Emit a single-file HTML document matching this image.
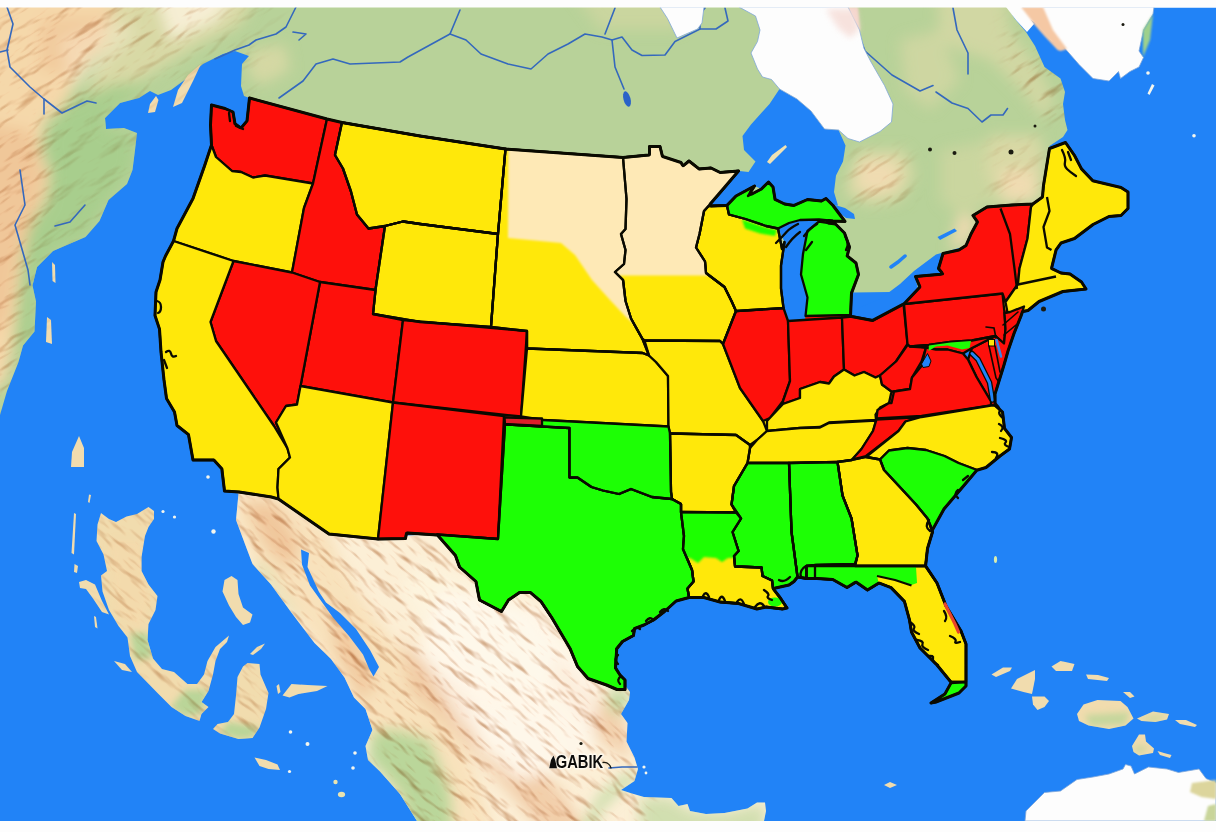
<!DOCTYPE html>
<html lang="en"><head><meta charset="utf-8"><title>Map</title>
<style>html,body{margin:0;padding:0;background:#fdfdfd;}body{width:1216px;height:832px;overflow:hidden;font-family:"Liberation Sans",sans-serif;}svg{display:block;}</style></head><body>
<svg width="1216" height="832" viewBox="0 0 1216 832">
<defs>
<filter id="bl" x="-20%" y="-20%" width="140%" height="140%"><feGaussianBlur stdDeviation="7"/></filter>
<filter id="bs" x="-20%" y="-20%" width="140%" height="140%"><feGaussianBlur stdDeviation="3"/></filter>
<filter id="relief" x="0" y="0" width="100%" height="100%" color-interpolation-filters="sRGB"><feTurbulence type="fractalNoise" baseFrequency="0.022 0.07" numOctaves="3" seed="11" result="n"/><feDiffuseLighting in="n" surfaceScale="5" diffuseConstant="1.2" lighting-color="#ffffff" result="l"><feDistantLight azimuth="250" elevation="60"/></feDiffuseLighting><feColorMatrix in="l" type="matrix" values=".30 0 0 0 .71  0 .52 0 0 .48  0 0 .70 0 .30  0 0 0 1 0"/></filter>
<filter id="b1" x="-20%" y="-20%" width="140%" height="140%"><feGaussianBlur stdDeviation="1.2"/></filter>
<clipPath id="cA"><polygon points="0,7 1007.5,7 1014.5,18.5 1026,32 1035,46 1044.5,67 1060.5,78.5 1065,92 1063,104 1065,120 1067.5,130 1063,137 1049.5,146 1040,290 300,300 249.5,98 244,96 241,86 242,64 249,56 235,51 223,54 203,64 186,79 171,90 158,95 150,91 139,98 120,103 105,118 106,129 124,128 137,133 135,150 132.5,170 127,184 108.5,200 99.5,221 85.5,237 53,251 37,267 32.5,285.5 36,301.5 34.5,331.5 23,345.5 18.5,362 7,391 0,415"/></clipPath>
<clipPath id="cB"><polygon points="224.5,491 279,495 330,532 380,537 437,534 500,535 525,580 548,595 575,635 595,665 625.5,686 630,692 629,700 621,714 627.5,723 626.5,741.5 634.5,757.5 638,769 634.5,781 621,790 632,793.5 644,797 671.5,798 678.5,806 687.5,804 690,811 706,814 724.5,813 747.5,808.5 757,802.5 765,802.5 766,811 764,821 417,821 400,794 380,771.5 368,760 365.5,746 372.5,730 365.5,709 354,697.5 344.5,677.5 331,659 314.5,643 298.5,622 289.5,610 271,584.5 252.5,564 245.5,545.5 236,520 238.5,493.5"/></clipPath>
<clipPath id="cLand"><polygon points="0,7 1007.5,7 1014.5,18.5 1026,32 1035,46 1044.5,67 1060.5,78.5 1065,92 1063,104 1065,120 1067.5,130 1063,137 1049.5,146 1040,290 300,300 249.5,98 244,96 241,86 242,64 249,56 235,51 223,54 203,64 186,79 171,90 158,95 150,91 139,98 120,103 105,118 106,129 124,128 137,133 135,150 132.5,170 127,184 108.5,200 99.5,221 85.5,237 53,251 37,267 32.5,285.5 36,301.5 34.5,331.5 23,345.5 18.5,362 7,391 0,415"/><polygon points="224.5,491 279,495 330,532 380,537 437,534 500,535 525,580 548,595 575,635 595,665 625.5,686 630,692 629,700 621,714 627.5,723 626.5,741.5 634.5,757.5 638,769 634.5,781 621,790 632,793.5 644,797 671.5,798 678.5,806 687.5,804 690,811 706,814 724.5,813 747.5,808.5 757,802.5 765,802.5 766,811 764,821 417,821 400,794 380,771.5 368,760 365.5,746 372.5,730 365.5,709 354,697.5 344.5,677.5 331,659 314.5,643 298.5,622 289.5,610 271,584.5 252.5,564 245.5,545.5 236,520 238.5,493.5"/><polygon points="101,513 109,519 116,522 126.5,516.5 137,514 148.5,507 154,511 154,519 148.5,527 145,536 141.5,557 141.5,571 148.5,584.5 157.5,596 155.5,610 148.5,624 147.5,640 153,658.5 162,669 174,672 187.5,684 197,684 204,674.5 207.5,661 215.5,647 229,635.5 227,642 220,649 215.5,661 213,674.5 208.5,691 201.5,702 208.5,707 201.5,714 199.5,721 185.5,716 171.5,707 157.5,693 137,672 130,656 127.5,637.5 118.5,626 109,610 102.5,591.5 101,575.5 107,571 103.5,554.5 96.5,541 97.5,524.5"/><polygon points="79,582 86,580 95,584.5 102,601 109,614.5 102,612 93,598.5 86,589 80,588"/><polygon points="224.5,580 231.5,576 237.5,580 238.5,594 243,607.5 252.5,614.5 250,622.5 243,625 236,617 229,605.5 222.5,591.5"/><polygon points="247.5,663 259.5,664 260.5,674.5 268.5,693 266,709 259.5,727.5 252.5,738 238.5,739 220,733.5 213,729 217.5,724 228,722 234,714 236,695.5 237.5,677 243,666.5"/><polygon points="282.5,695.5 291.5,684 307.5,685 327.5,686 317,691 298.5,694 289.5,697.5"/><polygon points="276.5,686 279,684 280.5,692 278,694"/><polygon points="250,654 257,647 265,643.5 261,649 253,655"/><polygon points="254.5,757.5 266,760 277.5,764.5 280,770 268.5,769 259.5,766"/><polygon points="79,436 84,448 84,467 71,467 72,452"/><polygon points="201,64 193,81 182,103 173,107 178,90 188,75"/><polygon points="156,96 158.5,100 155,112 148,113 150,104"/><polygon points="47,317 51,320 52,344 46,342"/><polygon points="52,262 55,265 55.5,283 52.5,281"/><polygon points="74,513 76,514 74,554.5 71.5,553"/><polygon points="74.5,564 78,566 77,573 74,572"/><polygon points="89,494.5 91,495 89.5,503 88,502"/><polygon points="94,616 96,617 97.5,628.5 95,627"/><polygon points="114,661 125,664 132,672 122,670"/><polygon points="991.5,674.5 1003,667.5 1012,667.5 1010,671 996,677"/><polygon points="1011,688.5 1017,679 1035,670 1035,679 1032,694 1023.5,692"/><polygon points="1032,696.5 1044.5,696.5 1049,701 1044.5,707 1037.5,710 1033,704.5"/><polygon points="1051.5,666.5 1060.5,661 1074.5,664 1072,671 1056,671"/><polygon points="1086,674.5 1098,675 1109,678 1107,681 1088,679"/><polygon points="1123,692 1130,692 1134.5,696.5 1130,698"/><polygon points="1077,714 1083.5,704.5 1097.5,700 1120.5,701 1127.5,707 1133.5,718.5 1125.5,725.5 1109,729 1088.5,725.5 1079,721"/><polygon points="1137,718.5 1153,711.5 1169,714 1167,719.5 1155.5,722 1141.5,721"/><polygon points="1175,720 1186,720 1197,725 1195,727 1180,724"/><polygon points="1132,746 1139,734.5 1145,734.5 1146,741.5 1154,748.5 1153,753 1139,755.5 1133.5,752"/><polygon points="1157.5,751 1164,753 1171.5,755 1170,758 1160,755"/><polygon points="884,785 890,782 897,785 890,788"/></clipPath>
<clipPath id="cCr1"><polygon points="505.5,149 623,157.5 626.5,199 625.5,229 621,234 625.5,250 624,264 615,272 623,280 625.5,301 631,318.5 642.5,339 649,355.5 642.5,353 527,348.5 527,331 491,327 498,234"/></clipPath><clipPath id="cCr2"><polygon points="623,157.5 649.5,155 649.5,146.5 660,146.5 662.5,156.5 681,162.5 683,166 689,161 699,169 711,168 720,172.5 738.5,171 722.5,190 708.5,206 704,211 699.5,234 696,247.5 705,261.5 706,273 724.5,287 731.5,301 736,311 723,344 720,341 644.5,340.5 642.5,339 631,318.5 625.5,301 623,280 615,272 624,264 625.5,250 621,234 625.5,229 626.5,199"/></clipPath>
<clipPath id="cI"><polygon points="101,513 109,519 116,522 126.5,516.5 137,514 148.5,507 154,511 154,519 148.5,527 145,536 141.5,557 141.5,571 148.5,584.5 157.5,596 155.5,610 148.5,624 147.5,640 153,658.5 162,669 174,672 187.5,684 197,684 204,674.5 207.5,661 215.5,647 229,635.5 227,642 220,649 215.5,661 213,674.5 208.5,691 201.5,702 208.5,707 201.5,714 199.5,721 185.5,716 171.5,707 157.5,693 137,672 130,656 127.5,637.5 118.5,626 109,610 102.5,591.5 101,575.5 107,571 103.5,554.5 96.5,541 97.5,524.5"/><polygon points="79,582 86,580 95,584.5 102,601 109,614.5 102,612 93,598.5 86,589 80,588"/><polygon points="224.5,580 231.5,576 237.5,580 238.5,594 243,607.5 252.5,614.5 250,622.5 243,625 236,617 229,605.5 222.5,591.5"/><polygon points="247.5,663 259.5,664 260.5,674.5 268.5,693 266,709 259.5,727.5 252.5,738 238.5,739 220,733.5 213,729 217.5,724 228,722 234,714 236,695.5 237.5,677 243,666.5"/><polygon points="282.5,695.5 291.5,684 307.5,685 327.5,686 317,691 298.5,694 289.5,697.5"/><polygon points="276.5,686 279,684 280.5,692 278,694"/><polygon points="250,654 257,647 265,643.5 261,649 253,655"/><polygon points="254.5,757.5 266,760 277.5,764.5 280,770 268.5,769 259.5,766"/><polygon points="79,436 84,448 84,467 71,467 72,452"/><polygon points="201,64 193,81 182,103 173,107 178,90 188,75"/><polygon points="156,96 158.5,100 155,112 148,113 150,104"/><polygon points="47,317 51,320 52,344 46,342"/><polygon points="52,262 55,265 55.5,283 52.5,281"/><polygon points="74,513 76,514 74,554.5 71.5,553"/><polygon points="74.5,564 78,566 77,573 74,572"/><polygon points="89,494.5 91,495 89.5,503 88,502"/><polygon points="94,616 96,617 97.5,628.5 95,627"/><polygon points="114,661 125,664 132,672 122,670"/><polygon points="991.5,674.5 1003,667.5 1012,667.5 1010,671 996,677"/><polygon points="1011,688.5 1017,679 1035,670 1035,679 1032,694 1023.5,692"/><polygon points="1032,696.5 1044.5,696.5 1049,701 1044.5,707 1037.5,710 1033,704.5"/><polygon points="1051.5,666.5 1060.5,661 1074.5,664 1072,671 1056,671"/><polygon points="1086,674.5 1098,675 1109,678 1107,681 1088,679"/><polygon points="1123,692 1130,692 1134.5,696.5 1130,698"/><polygon points="1077,714 1083.5,704.5 1097.5,700 1120.5,701 1127.5,707 1133.5,718.5 1125.5,725.5 1109,729 1088.5,725.5 1079,721"/><polygon points="1137,718.5 1153,711.5 1169,714 1167,719.5 1155.5,722 1141.5,721"/><polygon points="1175,720 1186,720 1197,725 1195,727 1180,724"/><polygon points="1132,746 1139,734.5 1145,734.5 1146,741.5 1154,748.5 1153,753 1139,755.5 1133.5,752"/><polygon points="1157.5,751 1164,753 1171.5,755 1170,758 1160,755"/><polygon points="884,785 890,782 897,785 890,788"/></clipPath>
<clipPath id="cUS"><path d="M177.0,228.5 L173.5,241.0 L165.5,256.0 L163.0,262.0 L160.0,280.0 L156.0,292.0 L155.0,315.5 L159.5,329.0 L161.0,352.0 L164.0,380.0 L166.5,398.5 L174.5,412.0 L177.0,425.5 L188.5,434.5 L193.0,460.0 L214.0,460.0 L222.0,469.0 L224.5,491.0 L239.0,492.0 L271.5,497.0 L278.5,499.0 L329.0,534.0 L378.0,539.0 L405.5,538.5 L406.5,533.0 L437.5,535.0 L455.5,555.5 L459.5,567.0 L476.0,581.5 L479.5,600.0 L501.5,611.5 L508.5,600.0 L519.5,592.5 L530.5,592.5 L541.0,601.5 L552.0,618.0 L570.0,648.5 L577.5,666.5 L588.0,678.5 L606.5,685.0 L617.0,689.5 L625.0,689.5 L625.0,680.0 L620.0,675.0 L615.5,668.0 L616.5,649.0 L622.5,641.5 L633.5,635.5 L634.5,628.5 L644.0,625.0 L653.5,620.0 L664.5,611.5 L676.0,601.0 L689.0,597.5 L704.0,597.5 L720.0,602.0 L738.5,603.5 L757.0,609.0 L766.0,607.0 L782.5,609.0 L787.0,608.0 L780.0,597.5 L773.0,588.5 L789.0,585.0 L794.0,581.5 L797.5,577.0 L806.5,578.5 L817.0,578.5 L833.0,579.5 L847.0,587.5 L856.0,582.0 L867.5,590.0 L879.0,583.0 L891.0,587.5 L904.5,601.5 L909.5,620.0 L911.5,632.0 L920.0,648.0 L937.0,665.0 L951.3,682.4 L945.0,694.0 L931.0,703.0 L936.0,702.0 L959.0,693.0 L966.0,686.0 L966.0,644.0 L961.0,631.0 L946.0,606.0 L937.0,583.0 L925.5,566.0 L927.5,548.5 L932.5,532.0 L932.1,530.8 L944.0,509.0 L955.5,495.5 L969.5,479.0 L977.0,470.0 L986.0,467.5 L1000.0,456.0 L1009.5,449.0 L1011.5,437.5 L1004.5,428.5 L1002.5,412.0 L995.0,405.5 L995.0,394.0 L1004.0,365.0 L1008.0,351.0 L1014.0,333.5 L1021.0,316.0 L1022.4,311.5 L1028.0,310.5 L1039.0,301.5 L1063.0,291.5 L1086.0,289.0 L1081.5,282.0 L1070.0,274.0 L1061.0,273.0 L1051.5,268.5 L1056.0,250.0 L1061.0,243.0 L1074.5,238.5 L1093.0,224.5 L1109.0,216.5 L1121.0,215.5 L1128.0,208.5 L1128.0,192.0 L1121.0,187.5 L1093.0,181.0 L1081.5,169.0 L1074.5,155.5 L1065.5,142.5 L1049.5,148.5 L1043.5,185.5 L1042.5,197.0 L1033.0,204.0 L1012.0,205.0 L987.0,207.0 L973.0,215.5 L977.5,222.0 L971.0,234.0 L966.0,245.5 L959.0,250.0 L943.0,253.5 L938.5,268.5 L943.0,274.0 L915.5,276.5 L920.0,287.0 L904.5,303.4 L873.0,320.5 L850.4,316.2 L851.5,293.0 L858.5,274.5 L856.0,263.0 L847.0,256.0 L849.5,247.0 L844.5,233.0 L832.5,221.0 L845.0,221.5 L833.0,205.5 L826.0,198.5 L821.5,201.0 L807.5,199.5 L794.0,205.5 L784.5,204.0 L775.0,199.5 L773.0,187.0 L768.5,182.0 L761.5,189.0 L748.0,196.0 L754.5,186.0 L736.0,196.0 L727.0,205.5 L708.5,206.0 L722.5,190.0 L738.5,171.0 L720.0,172.5 L711.0,168.0 L699.0,169.0 L689.0,161.0 L683.0,166.0 L681.0,162.5 L662.5,156.5 L660.0,146.5 L649.5,146.5 L649.5,155.0 L623.0,157.5 L505.5,149.0 L420.0,136.0 L342.0,122.5 L327.0,119.0 L249.5,98.0 L247.0,121.0 L241.0,128.0 L235.0,124.0 L233.0,112.0 L225.0,108.5 L211.5,105.0 L210.5,125.0 L211.5,145.0 L204.5,166.0 L193.0,198.5Z M972.0,348.0 L968.0,359.5 L963.0,353.5Z M784.5,242.0 L782.0,249.0 L778.0,228.5 L789.0,223.0 L800.0,220.0 L821.5,219.4 L807.5,231.0 L803.0,254.0 L801.0,274.5 L807.5,297.5 L805.1,319.9 L788.0,321.0 L783.5,308.0 L781.0,288.5 L781.0,265.5Z" clip-rule="evenodd"/></clipPath>
</defs>
<rect x="0" y="0" width="1216" height="832" fill="#fdfdfd"/>
<rect x="0" y="7.5" width="1216" height="813.5" fill="#2183f7"/>
<g id="land" stroke="none">
<polygon points="0,7 1007.5,7 1014.5,18.5 1026,32 1035,46 1044.5,67 1060.5,78.5 1065,92 1063,104 1065,120 1067.5,130 1063,137 1049.5,146 1040,290 300,300 249.5,98 244,96 241,86 242,64 249,56 235,51 223,54 203,64 186,79 171,90 158,95 150,91 139,98 120,103 105,118 106,129 124,128 137,133 135,150 132.5,170 127,184 108.5,200 99.5,221 85.5,237 53,251 37,267 32.5,285.5 36,301.5 34.5,331.5 23,345.5 18.5,362 7,391 0,415" fill="#b8d299"/>
<g clip-path="url(#cA)"><g filter="url(#bl)">
<polygon points="-30,-25 150,-25 125,30 95,55 75,85 62,108 45,120 40,150 50,175 45,200 30,225 22,260 18,300 14,340 6,380 -30,415" fill="#f5d8aa" opacity="1"/>
<polygon points="-30,120 30,130 45,175 35,215 18,260 8,320 -30,350" fill="#eab486" opacity="0.45"/>
<polygon points="40,20 110,15 120,40 70,75 40,70" fill="#eab486" opacity="0.35"/>
<polygon points="120,-25 270,-25 240,25 200,45 150,75 110,100 85,100 100,60" fill="#dcd9a6" opacity="0.9"/>
<polygon points="150,-25 250,-25 215,22 170,40" fill="#fdf4de" opacity="0.8"/>
<polygon points="250,50 285,45 290,70 262,85 248,75" fill="#dcd9a6" opacity="0.8"/>
<polygon points="60,40 110,20 140,30 100,70 70,90" fill="#fdf4de" opacity="0.35"/>
<polygon points="62,108 110,85 150,80 120,103 105,118 106,129 135,135 132,170 108,200 85,237 53,251 34,285 34,331 20,360 14,340 20,280 30,230 48,200 52,170 45,140" fill="#a6cd8c" opacity="0.9"/>
<polygon points="860,150 905,150 915,175 900,200 870,205 845,195 850,170" fill="#dcd9a6" opacity="0.9"/>
<polygon points="860,160 895,160 900,185 875,195 855,185" fill="#f5dcb4" opacity="0.8"/>
<polygon points="990,135 1040,135 1045,160 1040,200 1000,205 985,170" fill="#dcd9a6" opacity="0.9"/>
<polygon points="1000,170 1035,170 1038,200 1005,203" fill="#f5dcb4" opacity="0.8"/>
<polygon points="936,-25 1000,-25 1010,30 1040,70 1055,100 1045,120 1020,90 990,60 960,50 940,40" fill="#dcd9a6" opacity="0.7"/>
<polygon points="900,40 940,30 960,80 930,110 905,90" fill="#dcd9a6" opacity="0.6"/>
<polygon points="560,-25 700,-25 680,30 600,30" fill="#dcd9a6" opacity="0.5"/>
<polygon points="940,150 990,140 1000,200 960,215 940,200" fill="#dcd9a6" opacity="0.5"/>
<polygon points="958,215 975,215 972,235 962,246 950,250" fill="#f5dcb4" opacity="0.9"/>
</g></g>
<polygon points="224.5,491 279,495 330,532 380,537 437,534 500,535 525,580 548,595 575,635 595,665 625.5,686 630,692 629,700 621,714 627.5,723 626.5,741.5 634.5,757.5 638,769 634.5,781 621,790 632,793.5 644,797 671.5,798 678.5,806 687.5,804 690,811 706,814 724.5,813 747.5,808.5 757,802.5 765,802.5 766,811 764,821 417,821 400,794 380,771.5 368,760 365.5,746 372.5,730 365.5,709 354,697.5 344.5,677.5 331,659 314.5,643 298.5,622 289.5,610 271,584.5 252.5,564 245.5,545.5 236,520 238.5,493.5" fill="#fcefd6"/>
<g clip-path="url(#cB)"><g filter="url(#bl)">
<polygon points="236,492 280,496 330,532 340,560 370,610 400,650 430,700 470,760 500,850 420,850 380,771 365,730 340,677 300,622 255,564 236,520" fill="#f5d8aa" opacity="0.6"/>
<polygon points="245,500 275,505 300,545 290,570 265,545" fill="#eab486" opacity="0.6"/>
<polygon points="330,600 360,640 375,690 360,700 335,650" fill="#eab486" opacity="0.5"/>
<polygon points="400,640 470,700 560,790 600,850 560,850 480,760 410,690" fill="#eab486" opacity="0.55"/>
<polygon points="540,640 590,690 625,720 630,760 600,740 560,690" fill="#eab486" opacity="0.5"/>
<polygon points="420,560 520,600 560,650 540,700 480,690 430,640 400,590" fill="#fdf4de" opacity="0.9"/>
<polygon points="470,700 540,710 560,760 520,780 480,750" fill="#fdf4de" opacity="0.8"/>
<polygon points="440,590 540,610 600,680 590,760 520,780 460,720 420,650" fill="#fffaf0" opacity="0.7"/>
<polygon points="400,730 430,740 450,790 455,850 417,850 400,794 380,771 368,760 372,730" fill="#b4d496" opacity="0.9"/>
<polygon points="607,690 630,692 629,700 621,714 612,712" fill="#b4d496" opacity="0.9"/>
<polygon points="570,850 600,795 625,775 638,770 634,781 621,790 600,810 590,850" fill="#b4d496" opacity="0.8"/>
<polygon points="640,797 671,798 690,811 724,813 765,803 764,850 640,850" fill="#b4d496" opacity="0.6"/>
<polygon points="252,564 262,566 290,606 300,622 289,610 271,585" fill="#b4d496" opacity="0.8"/>
</g></g>
<polygon points="101,513 109,519 116,522 126.5,516.5 137,514 148.5,507 154,511 154,519 148.5,527 145,536 141.5,557 141.5,571 148.5,584.5 157.5,596 155.5,610 148.5,624 147.5,640 153,658.5 162,669 174,672 187.5,684 197,684 204,674.5 207.5,661 215.5,647 229,635.5 227,642 220,649 215.5,661 213,674.5 208.5,691 201.5,702 208.5,707 201.5,714 199.5,721 185.5,716 171.5,707 157.5,693 137,672 130,656 127.5,637.5 118.5,626 109,610 102.5,591.5 101,575.5 107,571 103.5,554.5 96.5,541 97.5,524.5" fill="#f1dcae"/>
<polygon points="79,582 86,580 95,584.5 102,601 109,614.5 102,612 93,598.5 86,589 80,588" fill="#f1dcae"/>
<polygon points="224.5,580 231.5,576 237.5,580 238.5,594 243,607.5 252.5,614.5 250,622.5 243,625 236,617 229,605.5 222.5,591.5" fill="#f1dcae"/>
<polygon points="247.5,663 259.5,664 260.5,674.5 268.5,693 266,709 259.5,727.5 252.5,738 238.5,739 220,733.5 213,729 217.5,724 228,722 234,714 236,695.5 237.5,677 243,666.5" fill="#f1dcae"/>
<polygon points="282.5,695.5 291.5,684 307.5,685 327.5,686 317,691 298.5,694 289.5,697.5" fill="#f1dcae"/>
<polygon points="276.5,686 279,684 280.5,692 278,694" fill="#f1dcae"/>
<polygon points="250,654 257,647 265,643.5 261,649 253,655" fill="#f1dcae"/>
<polygon points="254.5,757.5 266,760 277.5,764.5 280,770 268.5,769 259.5,766" fill="#f1dcae"/>
<polygon points="79,436 84,448 84,467 71,467 72,452" fill="#f1dcae"/>
<polygon points="201,64 193,81 182,103 173,107 178,90 188,75" fill="#f1dcae"/>
<polygon points="156,96 158.5,100 155,112 148,113 150,104" fill="#f1dcae"/>
<polygon points="47,317 51,320 52,344 46,342" fill="#f1dcae"/>
<polygon points="52,262 55,265 55.5,283 52.5,281" fill="#f1dcae"/>
<polygon points="74,513 76,514 74,554.5 71.5,553" fill="#f1dcae"/>
<polygon points="74.5,564 78,566 77,573 74,572" fill="#f1dcae"/>
<polygon points="89,494.5 91,495 89.5,503 88,502" fill="#f1dcae"/>
<polygon points="94,616 96,617 97.5,628.5 95,627" fill="#f1dcae"/>
<polygon points="114,661 125,664 132,672 122,670" fill="#f1dcae"/>
<polygon points="991.5,674.5 1003,667.5 1012,667.5 1010,671 996,677" fill="#f1dcae"/>
<polygon points="1011,688.5 1017,679 1035,670 1035,679 1032,694 1023.5,692" fill="#f1dcae"/>
<polygon points="1032,696.5 1044.5,696.5 1049,701 1044.5,707 1037.5,710 1033,704.5" fill="#f1dcae"/>
<polygon points="1051.5,666.5 1060.5,661 1074.5,664 1072,671 1056,671" fill="#f1dcae"/>
<polygon points="1086,674.5 1098,675 1109,678 1107,681 1088,679" fill="#f1dcae"/>
<polygon points="1123,692 1130,692 1134.5,696.5 1130,698" fill="#f1dcae"/>
<polygon points="1077,714 1083.5,704.5 1097.5,700 1120.5,701 1127.5,707 1133.5,718.5 1125.5,725.5 1109,729 1088.5,725.5 1079,721" fill="#f1dcae"/>
<polygon points="1137,718.5 1153,711.5 1169,714 1167,719.5 1155.5,722 1141.5,721" fill="#f1dcae"/>
<polygon points="1175,720 1186,720 1197,725 1195,727 1180,724" fill="#f1dcae"/>
<polygon points="1132,746 1139,734.5 1145,734.5 1146,741.5 1154,748.5 1153,753 1139,755.5 1133.5,752" fill="#f1dcae"/>
<polygon points="1157.5,751 1164,753 1171.5,755 1170,758 1160,755" fill="#f1dcae"/>
<polygon points="884,785 890,782 897,785 890,788" fill="#f1dcae"/>
<g clip-path="url(#cI)"><g filter="url(#bs)">
<polygon points="130,633 148,633 153,658 135,660" fill="#b4d496" opacity="0.9"/>
<polygon points="185,690 208,690 201,714 185,716 171,707" fill="#b4d496" opacity="0.9"/>
<polygon points="228,722 259,727 252,738 238,739 220,733" fill="#b4d496" opacity="0.9"/>
<polygon points="110,540 140,540 150,600 140,630 115,610" fill="#f5d8aa" opacity="0.6"/>
<polygon points="1085,715 1130,712 1125,725 1090,726" fill="#b4d496" opacity="0.7"/>
<polygon points="1137,718 1169,714 1155,722" fill="#b4d496" opacity="0.7"/>
<polygon points="1133,746 1150,746 1139,755" fill="#b4d496" opacity="0.6"/>
</g></g>
</g>
<mask id="mM1" maskUnits="userSpaceOnUse" x="0" y="0" width="1216" height="832"><rect width="1216" height="832" fill="#000"/><g clip-path="url(#cLand)"><g filter="url(#bl)" fill="#fff">
<polygon points="-30,-30 300,-30 260,50 250,110 140,200 60,300 30,420 -30,420" fill="#555"/>
<polygon points="-30,-30 240,-30 190,35 120,65 85,95 62,120 52,200 32,260 12,400 -30,420" fill="#fff" opacity=".6"/>
<polygon points="1000,20 1070,80 1070,135 1040,110 1010,70 " opacity=".8"/>
<polygon points="850,150 910,150 910,205 850,205" opacity=".6"/>
<polygon points="990,140 1040,140 1040,205 990,205" opacity=".4"/>
</g></g></mask>
<mask id="mM2" maskUnits="userSpaceOnUse" x="0" y="0" width="1216" height="832"><rect width="1216" height="832" fill="#000"/><g clip-path="url(#cLand)"><g filter="url(#bl)" fill="#fff">
<polygon points="230,480 330,532 500,540 560,630 650,690 650,860 410,860 330,680 230,550" opacity=".95"/>
<polygon points="95,505 160,505 160,600 235,630 270,660 270,740 200,725 120,650 95,580" opacity=".7"/>
</g></g></mask>
<g style="mix-blend-mode:multiply" mask="url(#mM1)"><rect x="-400" y="-900" width="2000" height="2000" transform="rotate(-32 600 400)" filter="url(#relief)"/></g>
<g style="mix-blend-mode:multiply" mask="url(#mM2)"><rect x="-400" y="-900" width="2000" height="2000" transform="rotate(42 600 400)" filter="url(#relief)"/></g>
<g id="rivers" fill="none" stroke="#3468bd" stroke-width="1.6" stroke-linejoin="round" stroke-linecap="round">
<polyline points="7,7 13,24 7,50 10,67 30,87 44,99 62,113 87,101 96,103"/>
<polyline points="44,99 44,114"/>
<polyline points="0,52 8,50"/>
<polyline points="296,7 286,27 276,34 256,40 249,45 235,50 215,59"/>
<polyline points="293,32 306,34 299,40"/>
<polyline points="279,98 303,81 316,64 333,59 350,64 400,62 408,57 450,34 460,10"/>
<polyline points="450,34 466,40 481,54 508,64 531,69 548,54 568,44 585,34 602,37 612,40 622,37 632,50 642,55.5 665,55 675,41.5 700,29 716,29 728,21 725,8"/>
<polyline points="612,40 615,67 624,89"/>
<polyline points="615,8 605,34"/>
<polyline points="700,29 700,14 705,8"/>
<polyline points="953,8 957,30 968,53 968,74"/>
<polyline points="936,92 952,103 968,108.5 982,122 991,115 1003,115 1007.5,108.5"/>
<polyline points="851,14 865,51 892,75 920,91 933,85.5"/>
<polyline points="20,170 25,205 15,225 28,270 30,285"/>
<polyline points="85,205 70,222 55,226"/>
<polyline points="609,768 622,767 637,767"/>
</g>
<g id="water" fill="#2183f7">
<polygon points="779.5,89 769.5,104 751,124.5 742.5,136 744,150 755.5,161.5 748.5,172 739.5,171 724.5,180 709.5,201 706,206.5 727,205.5 736,196 754.5,186 761.5,189 768.5,182 773,187 775,199.5 784.5,204 794,205.5 807.5,199.5 821.5,201 826,198.5 833,205.5 838,205.5 834,192 836,175.5 843,161.5 845.5,145.5 838.5,130 824.5,129 811,111 797,99"/>
<polygon points="789,221.5 800,218 819,221.5 807.5,231 803,254 801,274.5 807.5,297.5 805.5,316 789,320 784.5,309 781,288.5 781,265.5 784.5,242 778,228.5"/>
<polygon points="835,205 845,208 854,214 855,219 846,218 838,212"/>
<polygon points="850,298 855,311 861,307 880,299 900,284 914,271 936,254.5 959,248 959,252 940,275 916,280 918.5,291 903.5,305 872.5,322 851.5,318"/>
<polygon points="937.5,237 954.5,228.5 957,231 940,240"/>
<polygon points="301,549.5 309,553 307.5,567 319,592 326,602.5 340,613 356,629 370,650 379,667 373.5,676.5 369,668.5 363,654.5 349,636 333,617.5 321.5,601.5 310,585.5 302,564.5"/>
<ellipse cx="627" cy="99" rx="3.5" ry="8" transform="rotate(-15 627 99)" fill="#2a62c8"/>
<polyline points="891,267 898,262 905,256" fill="none" stroke="#2183f7" stroke-width="3.5" stroke-linecap="round"/>
</g>
<polygon points="767,162 772,155 785.5,145 787,147 778,156 770,164" fill="#efe2b4"/>
<g id="ice">
<polygon points="1021,7 1042,7 1051,25 1066,48 1058,50 1040,30" fill="#f4c9a6" filter="url(#b1)"/>
<polygon points="826,7 858,7 860,30 850,36 835,25" fill="#f3d3c8" filter="url(#b1)"/>
<polygon points="660,7 704,7 702,23 697.5,29 677,38 667.5,18.5" fill="#fdfdfd" stroke="#7fa6d8" stroke-width="0.8"/>
<polygon points="739,7 755.5,16 760,30 757.5,41.5 751,53 757.5,69 762.5,77 771.5,79.5 779.5,89 797,99 811,111 824.5,129 838.5,130 848,138.5 859.5,142 880,131.5 891.5,122 893,104 884.5,85.5 871,62 864,48.5 859.5,30 848,7" fill="#fdfdfd" stroke="#7fa6d8" stroke-width="0.8"/>
<polygon points="1014.5,7 1028,18.5 1035,23 1051.5,41.5 1065,48.5 1079,64.5 1093,78.5 1109,81 1118.5,71.5 1120.5,78.5 1130,71.5 1139,67 1143.5,57.5 1139,51 1143.5,30 1153,14 1154,7" fill="#fdfdfd" stroke="#7fa6d8" stroke-width="0.8"/>
<polygon points="1025,821 1026,811 1044.5,792.5 1060.5,791 1077,779.5 1093,777 1109,774 1123,769 1125.5,764.5 1131,766 1134.5,774 1148.5,767 1167,769 1178.5,772.5 1199,769 1206,778.5 1216,783 1216,821" fill="#fdfdfd" stroke="#7fa6d8" stroke-width="0.8"/>
<polygon points="826,9 856,9 859,30 850,38 838,28" fill="#f6dcd6" filter="url(#bs)" opacity=".8"/>
<polygon points="1143,30 1153,14 1150,40 1143,57" fill="#9ed08c" filter="url(#b1)"/>
<polygon points="1006,7 1022,7 1034,24 1027,32 1016,20" fill="#fdfdfd"/>
<polygon points="1021,7 1043,7 1053,30 1067,49 1060,51 1045,36 1032,21" fill="#f5c8a4" filter="url(#b1)"/>
<polygon points="1192,783 1216,780 1216,799 1201.5,797 1190,792" fill="#dcd59c" filter="url(#b1)"/>
<polygon points="1204,821 1208,806 1216,804 1216,821" fill="#c9d59a" filter="url(#b1)"/>
</g>
<rect x="0" y="0" width="1216" height="7.5" fill="#fdfdfd"/><rect x="0" y="821" width="1216" height="11" fill="#fdfdfd"/>
<g id="under" clip-path="url(#cUS)" stroke-width="6" stroke-linejoin="round">
<polygon points="211.5,105 225,108.5 233,112 235,124 241,128 247,121 249.5,98 327,119 313,183.5 265,175.5 253,177.5 241,172 232,171 216,157 211.5,145 210.5,125" fill="#fe100b" stroke="#fe100b"/>
<polygon points="211.5,145 216,157 232,171 241,172 253,177.5 265,175.5 313,183.5 304,208 292,272.5 233.5,261 173.5,241 177,228.5 193,198.5 204.5,166" fill="#ffe80a" stroke="#ffe80a"/>
<polygon points="327,119 342,122.5 335,155 343,168.5 351,191.5 357,214.5 368.5,228.5 385,226 375.5,290 320,282 292,272.5 304,208 313,183.5" fill="#fe100b" stroke="#fe100b"/>
<polygon points="342,122.5 420,136 505.5,149 498,234 420,224 403,221.5 385,226 368.5,228.5 357,214.5 351,191.5 343,168.5 335,155" fill="#ffe80a" stroke="#ffe80a"/>
<polygon points="385,226 403,221.5 420,224 498,234 491,327 420,322 373,314 375.5,290" fill="#ffe80a" stroke="#ffe80a"/>
<polygon points="320,282 375.5,290 373,314 403,320 393,402.5 300.5,386" fill="#fe100b" stroke="#fe100b"/>
<polygon points="233.5,261 292,272.5 320,282 300.5,386 297,404.5 286,406 276,422.5 287.5,448.5 274,426 216,341 210.5,322" fill="#fe100b" stroke="#fe100b"/>
<polygon points="173.5,241 233.5,261 210.5,322 216,341 274,426 287.5,448.5 290,457.5 278.5,469 277.5,487.5 278.5,499 271.5,497 239,492 224.5,491 222,469 214,460 193,460 188.5,434.5 177,425.5 174.5,412 166.5,398.5 164,380 161,352 159.5,329 155,315.5 156,292 160,280 163,262 165.5,256" fill="#ffe80a" stroke="#ffe80a"/>
<polygon points="300.5,386 393,402.5 378,539 329,534 278.5,499 277.5,487.5 278.5,469 290,457.5 287.5,448.5 276,422.5 286,406 297,404.5" fill="#ffe80a" stroke="#ffe80a"/>
<polygon points="403,320 527,331 521,416.5 393,402.5" fill="#fe100b" stroke="#fe100b"/>
<polygon points="393,402.5 504,416 498,539 406.5,533 405.5,538.5 378,539" fill="#fe100b" stroke="#fe100b"/>
<polygon points="505.5,149 623,157.5 626.5,199 625.5,229 621,234 625.5,250 624,264 615,272 623,280 625.5,301 631,318.5 642.5,339 649,355.5 642.5,353 527,348.5 527,331 491,327 498,234" fill="#ffe80a" stroke="#ffe80a"/>
<polygon points="623,157.5 649.5,155 649.5,146.5 660,146.5 662.5,156.5 681,162.5 683,166 689,161 699,169 711,168 720,172.5 738.5,171 722.5,190 708.5,206 704,211 699.5,234 696,247.5 705,261.5 706,273 724.5,287 731.5,301 736,311 723,344 720,341 644.5,340.5 642.5,339 631,318.5 625.5,301 623,280 615,272 624,264 625.5,250 621,234 625.5,229 626.5,199" fill="#ffe80a" stroke="#ffe80a"/>
<polygon points="527,348.5 642.5,353 649,355.5 656,362 668,376 668.5,426.5 543,420 521,416.5" fill="#ffe80a" stroke="#ffe80a"/>
<polygon points="644.5,340.5 720,341 723,344 740,388 763,421 767,431 757,440 750,445 736,435 670,433.5 668.5,426.5 668,376 656,362 649,355.5" fill="#ffe80a" stroke="#ffe80a"/>
<polygon points="736,311 783.5,308 788,321 790,381 783,401 770,418 763,421 740,388 723,344" fill="#fe100b" stroke="#fe100b"/>
<polygon points="708.5,206 727,205.5 729,214.5 745.5,219 766,226 778,228.5 782,249 784.5,242 781,265.5 781,288.5 783.5,308 736,311 731.5,301 724.5,287 706,273 705,261.5 696,247.5 699.5,234 704,211" fill="#ffe80a" stroke="#ffe80a"/>
<polygon points="727,205.5 736,196 754.5,186 748,196 761.5,189 768.5,182 773,187 775,199.5 784.5,204 794,205.5 807.5,199.5 821.5,201 826,198.5 833,205.5 845,221.5 833,221 819,219.5 800,220 789,223 778,228.5 766,226 745.5,219 729,214.5" fill="#1dff05" stroke="#1dff05"/>
<polygon points="819,221.5 835.5,224 844.5,233 849.5,247 847,256 856,263 858.5,274.5 851.5,293 850.5,315 805.5,316 807.5,297.5 801,274.5 803,254 807.5,231" fill="#1dff05" stroke="#1dff05"/>
<polygon points="788,321 842,317.5 844,369.5 834,376.5 829,383.5 820,382 800,389 800,398 783,404 783,401 790,381" fill="#fe100b" stroke="#fe100b"/>
<polygon points="842,317.5 852,316.5 873,320.5 903.5,304 907.5,344 896,361.5 880,375.5 875.5,377.5 864,372 854.5,375.5 844,369.5" fill="#fe100b" stroke="#fe100b"/>
<polygon points="767,421 783,404 800,398 800,389 820,382 829,383.5 834,376.5 844,369.5 854.5,375.5 864,372 875.5,377.5 880,375.5 882,384.5 891.5,391.5 889,403 880,407.5 875.5,414.5 876,420 829,422.5 820,427 800,428 767,431" fill="#ffe80a" stroke="#ffe80a"/>
<polygon points="767,431 800,428 820,427.5 829,423 876,420.5 873,431 861.5,449 852,460 838,462 789,463 747.5,463 750,448 757,440" fill="#ffe80a" stroke="#ffe80a"/>
<polygon points="907.5,345 926,347.5 921.5,361.5 912,377.5 910,389 894,391.5 891.5,391.5 882,384.5 880,375.5 896,361.5" fill="#fe100b" stroke="#fe100b"/>
<polygon points="904,304 1002.5,293.5 1004.5,313 1005.5,329 1004,343.5 995.5,336 972,340.5 950.5,342 928.9,345 910,346.5 907.5,344" fill="#fe100b" stroke="#fe100b"/>
<polygon points="973,215.5 987,207 1012,205 1033,204 1031,207 1027.5,238.5 1019.5,268.5 1018,284 1005.5,302 1002.5,293.5 904,304 920,287 915.5,276.5 943,274 938.5,268.5 943,253.5 959,250 966,245.5 971,234 977.5,222" fill="#fe100b" stroke="#fe100b"/>
<polygon points="1049.5,148.5 1065.5,142.5 1074.5,155.5 1081.5,169 1093,181 1121,187.5 1128,192 1128,208.5 1121,215.5 1109,216.5 1093,224.5 1074.5,238.5 1061,243 1056,250 1051.5,268.5 1061,273 1070,274 1081.5,282 1086,289 1063,291.5 1039,301.5 1028,310.5 1019.5,312 1007.5,312.5 1005.5,302 1018,284 1019.5,268.5 1027.5,238.5 1031,207 1033,204 1042.5,197 1043.5,185.5" fill="#ffe80a" stroke="#ffe80a"/>
<polygon points="1004.5,313 1010,312 1024,306.5 1021,316 1014,333.5 1008,351 1004,365 999.5,379.5 995,394 995,405.5 991,405.5 991,401.5 976.5,377 968,359.5 972,348 995.5,336 1004,343.5 1005.5,329" fill="#fe100b" stroke="#fe100b"/>
<polygon points="926,347.5 910,346.5 928.9,345 950.5,342 972,340.5 995.5,336 972,348 963,353.5 947.5,349.5 936,349.5" fill="#fe100b" stroke="#fe100b"/>
<polygon points="926,347.5 936,349.5 947.5,349.5 963,353.5 968,359.5 976.5,377 991,401.5 991,405.5 921.5,416 876.5,418.5 877.5,410 889,403 891.5,403 894,391.5 910,389 912,377.5 921.5,366" fill="#fe100b" stroke="#fe100b"/>
<polygon points="876.5,419.5 921.5,417 905.5,421.5 898.5,431 866,456 852,459.5 861.5,449 873,431" fill="#fe100b" stroke="#fe100b"/>
<polygon points="921.5,417 991,405.5 995,405.5 1002.5,412 1004.5,428.5 1011.5,437.5 1009.5,449 1000,456 986,467.5 977,470 958.5,463 944.5,456 926,450 907.5,448 889,450.5 880,459.5 866,457 898.5,431 905.5,421.5" fill="#ffe80a" stroke="#ffe80a"/>
<polygon points="880,459.5 889,450.5 907.5,448 926,450 944.5,456 958.5,463 977,470 969.5,479 955.5,495.5 944,509 932.5,530 927.5,518.5 916,504.5 884,470" fill="#1dff05" stroke="#1dff05"/>
<polygon points="837.5,462 852,460 866,457 880,459.5 884,470 916,504.5 927.5,518.5 932.5,532 927.5,548.5 925.5,566 855,566 857.5,555.5 851.5,518.5 842.5,495.5" fill="#ffe80a" stroke="#ffe80a"/>
<polygon points="789,463 837.5,462 842.5,495.5 851.5,518.5 857.5,555.5 855,564 816,565 806.5,566 806.5,578.5 797.5,577 791.5,532" fill="#1dff05" stroke="#1dff05"/>
<polygon points="747.5,463 789,463 791.5,532 797.5,577 794,581.5 789,585 773,588.5 772,580.5 762.5,576 761.5,567.5 735,566.5 734,556 738.5,551 732.5,532 741,518.5 731.5,504.5 734,486" fill="#1dff05" stroke="#1dff05"/>
<polygon points="670,433.5 736,435 750,445 750,448 747.5,463 734,486 731.5,504.5 736,512.5 681,512 681,504 672,499 671,492" fill="#ffe80a" stroke="#ffe80a"/>
<polygon points="681,512 736,512.5 741,518.5 732.5,532 738.5,551 734,556 735,566.5 761.5,567.5 762.5,576 772,580.5 773,588.5 780,597.5 787,608 782.5,609 766,607 757,609 738.5,603.5 720,602 704,597.5 689,597.5 687.5,588.5 693.5,581.5 692,570 683,549 684,536" fill="#ffe80a" stroke="#ffe80a"/>
<polygon points="505,424.5 569.5,428 569.5,477.5 577.5,477.5 591.5,487 603,490.5 619,494 631,489 652,497 672,499 681,504 681,512 684,536 683,549 692,570 693.5,581.5 687.5,588.5 689,597.5 676,601 664.5,611.5 653.5,620 644,625 634.5,628.5 633.5,635.5 622.5,641.5 616.5,649 615.5,668 620,675 625,680 625,689.5 617,689.5 606.5,685 588,678.5 577.5,666.5 570,648.5 552,618 541,601.5 530.5,592.5 519.5,592.5 508.5,600 501.5,611.5 479.5,600 476,581.5 459.5,567 455.5,555.5 437,534.5 498,539" fill="#1dff05" stroke="#1dff05"/>
<polygon points="543,420 668.5,426.5 670,433.5 671,492 672,499 652,497 631,489 619,494 603,490.5 591.5,487 577.5,477.5 569.5,477.5 569.5,428 505,424.5 504,417.5" fill="#1dff05" stroke="#1dff05"/>
<polygon points="504.5,417.5 542,418.5 542,426 505,424" fill="#dc1f2a" stroke="#dc1f2a"/>
<polygon points="855,566 925.5,566 937,583 946,606 961,631 966,644 966,682 951,682 937,665 920,648 911.5,632 909.5,620 904.5,601.5 891,587.5 879,583 867.5,590 856,582 847,587.5 833,579.5 817,578.5 806.5,578.5 806.5,566" fill="#ffe80a" stroke="#ffe80a"/>
<polygon points="966,682 951,683 945,694 931,703 936,702 959,693 966,686" fill="#1dff05" stroke="#1dff05"/>
</g>
<g id="states" stroke="#0a0a00" stroke-width="2.3" stroke-linejoin="round">
<polygon class="WA" points="211.5,105 225,108.5 233,112 235,124 241,128 247,121 249.5,98 327,119 313,183.5 265,175.5 253,177.5 241,172 232,171 216,157 211.5,145 210.5,125" fill="#fe100b"/>
<polygon class="OR" points="211.5,145 216,157 232,171 241,172 253,177.5 265,175.5 313,183.5 304,208 292,272.5 233.5,261 173.5,241 177,228.5 193,198.5 204.5,166" fill="#ffe80a"/>
<polygon class="ID" points="327,119 342,122.5 335,155 343,168.5 351,191.5 357,214.5 368.5,228.5 385,226 375.5,290 320,282 292,272.5 304,208 313,183.5" fill="#fe100b"/>
<polygon class="MT" points="342,122.5 420,136 505.5,149 498,234 420,224 403,221.5 385,226 368.5,228.5 357,214.5 351,191.5 343,168.5 335,155" fill="#ffe80a"/>
<polygon class="WY" points="385,226 403,221.5 420,224 498,234 491,327 420,322 373,314 375.5,290" fill="#ffe80a"/>
<polygon class="UT" points="320,282 375.5,290 373,314 403,320 393,402.5 300.5,386" fill="#fe100b"/>
<polygon class="NV" points="233.5,261 292,272.5 320,282 300.5,386 297,404.5 286,406 276,422.5 287.5,448.5 274,426 216,341 210.5,322" fill="#fe100b"/>
<polygon class="CA" points="173.5,241 233.5,261 210.5,322 216,341 274,426 287.5,448.5 290,457.5 278.5,469 277.5,487.5 278.5,499 271.5,497 239,492 224.5,491 222,469 214,460 193,460 188.5,434.5 177,425.5 174.5,412 166.5,398.5 164,380 161,352 159.5,329 155,315.5 156,292 160,280 163,262 165.5,256" fill="#ffe80a"/>
<polygon class="AZ" points="300.5,386 393,402.5 378,539 329,534 278.5,499 277.5,487.5 278.5,469 290,457.5 287.5,448.5 276,422.5 286,406 297,404.5" fill="#ffe80a"/>
<polygon class="CO" points="403,320 527,331 521,416.5 393,402.5" fill="#fe100b"/>
<polygon class="NM" points="393,402.5 504,416 498,539 406.5,533 405.5,538.5 378,539" fill="#fe100b"/>
<polygon class="DAK" points="505.5,149 623,157.5 626.5,199 625.5,229 621,234 625.5,250 624,264 615,272 623,280 625.5,301 631,318.5 642.5,339 649,355.5 642.5,353 527,348.5 527,331 491,327 498,234" fill="#ffe80a"/>
<polygon class="MNIA" points="623,157.5 649.5,155 649.5,146.5 660,146.5 662.5,156.5 681,162.5 683,166 689,161 699,169 711,168 720,172.5 738.5,171 722.5,190 708.5,206 704,211 699.5,234 696,247.5 705,261.5 706,273 724.5,287 731.5,301 736,311 723,344 720,341 644.5,340.5 642.5,339 631,318.5 625.5,301 623,280 615,272 624,264 625.5,250 621,234 625.5,229 626.5,199" fill="#ffe80a"/>
<polygon class="KS" points="527,348.5 642.5,353 649,355.5 656,362 668,376 668.5,426.5 543,420 521,416.5" fill="#ffe80a"/>
<polygon class="MO" points="644.5,340.5 720,341 723,344 740,388 763,421 767,431 757,440 750,445 736,435 670,433.5 668.5,426.5 668,376 656,362 649,355.5" fill="#ffe80a"/>
<polygon class="IL" points="736,311 783.5,308 788,321 790,381 783,401 770,418 763,421 740,388 723,344" fill="#fe100b"/>
<polygon class="WI" points="708.5,206 727,205.5 729,214.5 745.5,219 766,226 778,228.5 782,249 784.5,242 781,265.5 781,288.5 783.5,308 736,311 731.5,301 724.5,287 706,273 705,261.5 696,247.5 699.5,234 704,211" fill="#ffe80a"/>
<polygon class="UP" points="727,205.5 736,196 754.5,186 748,196 761.5,189 768.5,182 773,187 775,199.5 784.5,204 794,205.5 807.5,199.5 821.5,201 826,198.5 833,205.5 845,221.5 833,221 819,219.5 800,220 789,223 778,228.5 766,226 745.5,219 729,214.5" fill="#1dff05"/>
<polygon class="MI" points="819,221.5 835.5,224 844.5,233 849.5,247 847,256 856,263 858.5,274.5 851.5,293 850.5,315 805.5,316 807.5,297.5 801,274.5 803,254 807.5,231" fill="#1dff05"/>
<polygon class="IN" points="788,321 842,317.5 844,369.5 834,376.5 829,383.5 820,382 800,389 800,398 783,404 783,401 790,381" fill="#fe100b"/>
<polygon class="OH" points="842,317.5 852,316.5 873,320.5 903.5,304 907.5,344 896,361.5 880,375.5 875.5,377.5 864,372 854.5,375.5 844,369.5" fill="#fe100b"/>
<polygon class="KY" points="767,421 783,404 800,398 800,389 820,382 829,383.5 834,376.5 844,369.5 854.5,375.5 864,372 875.5,377.5 880,375.5 882,384.5 891.5,391.5 889,403 880,407.5 875.5,414.5 876,420 829,422.5 820,427 800,428 767,431" fill="#ffe80a"/>
<polygon class="TN" points="767,431 800,428 820,427.5 829,423 876,420.5 873,431 861.5,449 852,460 838,462 789,463 747.5,463 750,448 757,440" fill="#ffe80a"/>
<polygon class="WV" points="907.5,345 926,347.5 921.5,361.5 912,377.5 910,389 894,391.5 891.5,391.5 882,384.5 880,375.5 896,361.5" fill="#fe100b"/>
<polygon class="PA" points="904,304 1002.5,293.5 1004.5,313 1005.5,329 1004,343.5 995.5,336 972,340.5 950.5,342 928.9,345 910,346.5 907.5,344" fill="#fe100b"/>
<polygon class="NY" points="973,215.5 987,207 1012,205 1033,204 1031,207 1027.5,238.5 1019.5,268.5 1018,284 1005.5,302 1002.5,293.5 904,304 920,287 915.5,276.5 943,274 938.5,268.5 943,253.5 959,250 966,245.5 971,234 977.5,222" fill="#fe100b"/>
<polygon class="NE" points="1049.5,148.5 1065.5,142.5 1074.5,155.5 1081.5,169 1093,181 1121,187.5 1128,192 1128,208.5 1121,215.5 1109,216.5 1093,224.5 1074.5,238.5 1061,243 1056,250 1051.5,268.5 1061,273 1070,274 1081.5,282 1086,289 1063,291.5 1039,301.5 1028,310.5 1019.5,312 1007.5,312.5 1005.5,302 1018,284 1019.5,268.5 1027.5,238.5 1031,207 1033,204 1042.5,197 1043.5,185.5" fill="#ffe80a"/>
<polygon class="NJ" points="1004.5,313 1010,312 1024,306.5 1021,316 1014,333.5 1008,351 1004,365 999.5,379.5 995,394 995,405.5 991,405.5 991,401.5 976.5,377 968,359.5 972,348 995.5,336 1004,343.5 1005.5,329" fill="#fe100b"/>
<polygon class="MD" points="926,347.5 910,346.5 928.9,345 950.5,342 972,340.5 995.5,336 972,348 963,353.5 947.5,349.5 936,349.5" fill="#fe100b"/>
<polygon class="VA" points="926,347.5 936,349.5 947.5,349.5 963,353.5 968,359.5 976.5,377 991,401.5 991,405.5 921.5,416 876.5,418.5 877.5,410 889,403 891.5,403 894,391.5 910,389 912,377.5 921.5,366" fill="#fe100b"/>
<polygon class="VA2" points="876.5,419.5 921.5,417 905.5,421.5 898.5,431 866,456 852,459.5 861.5,449 873,431" fill="#fe100b"/>
<polygon class="NC" points="921.5,417 991,405.5 995,405.5 1002.5,412 1004.5,428.5 1011.5,437.5 1009.5,449 1000,456 986,467.5 977,470 958.5,463 944.5,456 926,450 907.5,448 889,450.5 880,459.5 866,457 898.5,431 905.5,421.5" fill="#ffe80a"/>
<polygon class="SC" points="880,459.5 889,450.5 907.5,448 926,450 944.5,456 958.5,463 977,470 969.5,479 955.5,495.5 944,509 932.5,530 927.5,518.5 916,504.5 884,470" fill="#1dff05"/>
<polygon class="GA" points="837.5,462 852,460 866,457 880,459.5 884,470 916,504.5 927.5,518.5 932.5,532 927.5,548.5 925.5,566 855,566 857.5,555.5 851.5,518.5 842.5,495.5" fill="#ffe80a"/>
<polygon class="AL" points="789,463 837.5,462 842.5,495.5 851.5,518.5 857.5,555.5 855,564 816,565 806.5,566 806.5,578.5 797.5,577 791.5,532" fill="#1dff05"/>
<polygon class="MS" points="747.5,463 789,463 791.5,532 797.5,577 794,581.5 789,585 773,588.5 772,580.5 762.5,576 761.5,567.5 735,566.5 734,556 738.5,551 732.5,532 741,518.5 731.5,504.5 734,486" fill="#1dff05"/>
<polygon class="AR" points="670,433.5 736,435 750,445 750,448 747.5,463 734,486 731.5,504.5 736,512.5 681,512 681,504 672,499 671,492" fill="#ffe80a"/>
<polygon class="LA" points="681,512 736,512.5 741,518.5 732.5,532 738.5,551 734,556 735,566.5 761.5,567.5 762.5,576 772,580.5 773,588.5 780,597.5 787,608 782.5,609 766,607 757,609 738.5,603.5 720,602 704,597.5 689,597.5 687.5,588.5 693.5,581.5 692,570 683,549 684,536" fill="#ffe80a"/>
<polygon class="TX" points="505,424.5 569.5,428 569.5,477.5 577.5,477.5 591.5,487 603,490.5 619,494 631,489 652,497 672,499 681,504 681,512 684,536 683,549 692,570 693.5,581.5 687.5,588.5 689,597.5 676,601 664.5,611.5 653.5,620 644,625 634.5,628.5 633.5,635.5 622.5,641.5 616.5,649 615.5,668 620,675 625,680 625,689.5 617,689.5 606.5,685 588,678.5 577.5,666.5 570,648.5 552,618 541,601.5 530.5,592.5 519.5,592.5 508.5,600 501.5,611.5 479.5,600 476,581.5 459.5,567 455.5,555.5 437,534.5 498,539" fill="#1dff05"/>
<polygon class="OK" points="543,420 668.5,426.5 670,433.5 671,492 672,499 652,497 631,489 619,494 603,490.5 591.5,487 577.5,477.5 569.5,477.5 569.5,428 505,424.5 504,417.5" fill="#1dff05"/>
<polygon class="OKP" points="504.5,417.5 542,418.5 542,426 505,424" fill="#dc1f2a"/>
<polygon class="FL" points="855,566 925.5,566 937,583 946,606 961,631 966,644 966,682 951,682 937,665 920,648 911.5,632 909.5,620 904.5,601.5 891,587.5 879,583 867.5,590 856,582 847,587.5 833,579.5 817,578.5 806.5,578.5 806.5,566" fill="#ffe80a"/>
<polygon class="FLK" points="966,682 951,683 945,694 931,703 936,702 959,693 966,686" fill="#1dff05"/>
</g>
<clipPath id="cLA"><polygon points="681,512 736,512.5 741,518.5 732.5,532 738.5,551 734,556 735,566.5 761.5,567.5 762.5,576 772,580.5 773,588.5 780,597.5 787,608 782.5,609 766,607 757,609 738.5,603.5 720,602 704,597.5 689,597.5 687.5,588.5 693.5,581.5 692,570 683,549 684,536"/></clipPath>
<g clip-path="url(#cLA)"><polygon points="670,500 750,500 750,558 728,558 722,562 716,558 704,557 698,563 690,558 670,557" fill="#1dff05" filter="url(#b1)"/><ellipse cx="775" cy="602" rx="7" ry="4.5" fill="#1dff05"/></g>
<g clip-path="url(#cCr1)"><g filter="url(#b1)">
<polygon points="508.5,140 640,140 640,330 625,316 610,300 592,280 575,255 561,243 508,238" fill="#fee9b6"/>
</g></g><g clip-path="url(#cCr2)"><g filter="url(#b1)">
<polygon points="615,140 745,140 745,200 720,275.5 615,275.5" fill="#fee9b6"/>
</g></g>
<polygon points="742,219.5 766,227.5 777,230 775,236 760,233.5 745,228.5" fill="#1dff05" filter="url(#b1)"/>
<polygon points="807.5,567 916,567 917,583 911.5,585 877,575.5 878.5,582.5 867.5,589 856,581 847,586.5 833,578.5 817,577.5 807.5,577.5" fill="#1dff05"/>
<polygon points="929,345.5 950.5,342.5 971,341 969.5,348 962,349.5 947.5,345.5 936,346.5 928.5,351" fill="#1dff05"/>
<polygon points="921.5,364 927.5,353.5 931,361 929,366.5 923,367.5" fill="#2183f7" stroke="#0a0a00" stroke-width="1"/>
<polyline points="972,353.5 978,359.5 989.5,382.5 992.5,400" fill="none" stroke="#0a0a00" stroke-width="5.5" stroke-linecap="round"/>
<polyline points="972,353.5 978,359.5 989.5,382.5 992.5,400" fill="none" stroke="#2183f7" stroke-width="3" stroke-linecap="round"/>
<polyline points="996.5,340 1001,356.5" fill="none" stroke="#3a86e8" stroke-width="2.6" stroke-linecap="round"/>
<rect x="988.5" y="339.5" width="6" height="6.5" fill="#ffe80a" stroke="#0a0a00" stroke-width="1"/>
<g fill="none" stroke="#0a0a00" stroke-width="1.6" stroke-linecap="round"><polyline points="989,346 996,378 999,382"/><polyline points="995,346 1000,372"/><polyline points="986,327 994,328 996,338"/><polyline points="1003,325 1018,312"/><polyline points="1004,335 1016,325"/></g>
<g fill="none" stroke="#0a0a00" stroke-width="2.3" stroke-linejoin="round">
<polyline points="877,576 895,580 911.5,585.5"/>
<polyline points="806.5,566 806.5,578.5"/><polyline points="815,565.5 815,578.5"/>
<polygon points="837.5,462 852,460 866,457 880,459.5 884,470 916,504.5 927.5,518.5 932.5,532 927.5,548.5 925.5,566 855,566 857.5,555.5 851.5,518.5 842.5,495.5"/>
<polygon points="789,463 837.5,462 842.5,495.5 851.5,518.5 857.5,555.5 855,564 816,565 806.5,566 806.5,578.5 797.5,577 791.5,532"/>
<polygon points="747.5,463 789,463 791.5,532 797.5,577 794,581.5 789,585 773,588.5 772,580.5 762.5,576 761.5,567.5 735,566.5 734,556 738.5,551 732.5,532 741,518.5 731.5,504.5 734,486"/>
<polygon points="670,433.5 736,435 750,445 750,448 747.5,463 734,486 731.5,504.5 736,512.5 681,512 681,504 672,499 671,492"/>
<polygon points="681,512 736,512.5 741,518.5 732.5,532 738.5,551 734,556 735,566.5 761.5,567.5 762.5,576 772,580.5 773,588.5 780,597.5 787,608 782.5,609 766,607 757,609 738.5,603.5 720,602 704,597.5 689,597.5 687.5,588.5 693.5,581.5 692,570 683,549 684,536"/>
<polygon points="505,424.5 569.5,428 569.5,477.5 577.5,477.5 591.5,487 603,490.5 619,494 631,489 652,497 672,499 681,504 681,512 684,536 683,549 692,570 693.5,581.5 687.5,588.5 689,597.5 676,601 664.5,611.5 653.5,620 644,625 634.5,628.5 633.5,635.5 622.5,641.5 616.5,649 615.5,668 620,675 625,680 625,689.5 617,689.5 606.5,685 588,678.5 577.5,666.5 570,648.5 552,618 541,601.5 530.5,592.5 519.5,592.5 508.5,600 501.5,611.5 479.5,600 476,581.5 459.5,567 455.5,555.5 437,534.5 498,539"/>
<polygon points="855,566 925.5,566 937,583 946,606 961,631 966,644 966,682 951,682 937,665 920,648 911.5,632 909.5,620 904.5,601.5 891,587.5 879,583 867.5,590 856,582 847,587.5 833,579.5 817,578.5 806.5,578.5 806.5,566"/>
<polygon points="342,122.5 420,136 505.5,149 498,234 420,224 403,221.5 385,226 368.5,228.5 357,214.5 351,191.5 343,168.5 335,155"/>
<polygon points="385,226 403,221.5 420,224 498,234 491,327 420,322 373,314 375.5,290"/>
<polygon points="505.5,149 623,157.5 626.5,199 625.5,229 621,234 625.5,250 624,264 615,272 623,280 625.5,301 631,318.5 642.5,339 649,355.5 642.5,353 527,348.5 527,331 491,327 498,234"/>
<polygon points="623,157.5 649.5,155 649.5,146.5 660,146.5 662.5,156.5 681,162.5 683,166 689,161 699,169 711,168 720,172.5 738.5,171 722.5,190 708.5,206 704,211 699.5,234 696,247.5 705,261.5 706,273 724.5,287 731.5,301 736,311 723,344 720,341 644.5,340.5 642.5,339 631,318.5 625.5,301 623,280 615,272 624,264 625.5,250 621,234 625.5,229 626.5,199"/>
<polygon points="708.5,206 727,205.5 729,214.5 745.5,219 766,226 778,228.5 782,249 784.5,242 781,265.5 781,288.5 783.5,308 736,311 731.5,301 724.5,287 706,273 705,261.5 696,247.5 699.5,234 704,211"/>
<polyline points="1000.5,208.5 1010,234 1014.5,268.5 1017,289"/>
<polyline points="1047,197 1049.5,211 1043.5,227 1047,247.5 1051.5,250"/>
<polyline points="1018,284.5 1056,276.5"/>
</g>
<path d="M155.0,315.5 L159.5,329.1 L161.0,352.0 L164.0,380.0 L166.5,398.5 L174.5,412.0 L177.0,425.5 L188.5,434.7 L193.0,460.0 L213.8,460.0 L221.8,468.8 L224.5,491.0 L239.0,492.0 L271.4,497.0 L278.4,499.0 L329.0,534.0 L378.0,539.0 L405.5,538.5 L406.4,533.8 L407.5,533.1 L437.4,535.1 L455.4,555.4 L459.5,567.0 L475.9,581.5 L479.5,600.0 L501.5,611.5 L508.5,600.0 L519.6,592.5 L530.5,592.6 L541.0,601.5 L552.0,618.0 L570.0,648.4 L577.5,666.5 L588.0,678.5 L606.5,685.0 L617.0,689.5 L625.0,689.5 L625.0,680.0 L620.0,675.0 L615.5,667.9 L616.7,648.8 L622.5,641.5 L633.5,635.5 L634.4,629.2 L634.9,628.4 L644.0,625.0 L653.5,620.0 L664.5,611.5 L676.2,601.0 L689.1,597.5 L703.9,597.5 L720.0,602.0 L738.5,603.5 L757.0,609.0 L766.1,607.0 L782.5,609.0 L787.0,608.0 L780.0,597.5 L774.1,589.9 L774.0,588.9 L774.5,588.2 L789.0,585.0 L794.0,581.5 L797.1,577.5 L797.9,577.1 L806.5,578.5 L817.0,578.5 L832.7,579.5 L847.0,587.5 L855.3,582.4 L856.3,582.3 L867.5,590.0 L878.5,583.3 L879.4,583.2 L891.0,587.6 L904.4,601.4 L909.5,619.9 L911.5,632.0 L920.0,648.0 L937.0,665.0 L951.0,682.2 L950.9,683.1 L944.9,694.0 L931.0,703.0 L936.0,702.0 L959.0,693.0 L966.0,686.0 L966.0,644.0 L961.0,631.0 L946.0,606.0 L937.0,583.0 L925.6,565.9 L927.5,548.5 L932.5,532.0 L932.2,530.4 L944.0,509.0 L976.8,470.2 L986.0,467.5 L1000.0,456.0 L1009.5,449.0 L1011.5,437.5 L1004.5,428.4 L1002.5,412.0 L995.1,405.4 L995.0,394.1 L1004.0,365.0 L1008.0,351.0 L1014.0,333.5 L1021.0,316.0 L1022.4,311.9 L1023.0,311.4 L1028.0,310.5 L1039.1,301.5 L1062.9,291.5 L1086.0,289.0 L1081.5,282.0 L1070.0,274.0 L1060.9,273.0 L1051.9,268.6 L1051.7,267.6 L1056.1,249.9 L1061.0,243.0 L1074.5,238.5 L1093.1,224.5 L1109.0,216.5 L1121.0,215.5 L1128.0,208.5 L1128.0,192.0 L1121.0,187.5 L1092.8,180.8 L1081.5,168.9 L1074.5,155.5 L1065.5,142.5 L1049.5,148.5 L1043.5,185.5 L1042.5,196.5 L1042.2,197.3 L1032.8,204.0 L1012.0,205.0 L987.0,207.0 L973.0,215.5 L977.1,221.4 L977.3,222.3 L971.0,234.0 L966.0,245.5 L958.9,250.0 L943.0,253.5 L938.5,268.5 L941.7,272.4 L941.8,273.2 L941.5,273.9 L940.7,274.2 L915.5,276.5 L919.7,286.3 L919.7,287.2 L904.4,303.6 L872.7,320.4 L851.4,316.5 L850.5,315.8 L851.5,293.1 L858.5,274.5 L856.0,263.0 L847.2,255.9 L849.5,247.0 L844.5,233.0 L835.5,224.0 L828.2,222.9 L827.5,222.4 L827.3,221.7 L827.6,220.9 L828.5,220.5 L833.0,221.0 L845.0,221.5 L833.0,205.5 L826.0,198.5 L821.4,201.0 L807.5,199.5 L794.0,205.4 L784.6,204.0 L775.1,199.4 L773.0,187.0 L768.5,182.0 L761.4,189.0 L751.9,194.0 L750.7,193.8 L750.3,192.5 L754.5,186.0 L736.0,196.0 L727.0,205.4 L711.0,205.9 L710.1,205.1 L710.2,204.0 L738.5,171.0 L720.2,172.5 L711.0,168.0 L699.1,168.9 L689.0,161.0 L684.0,165.2 L683.0,165.3 L682.4,164.9 L681.0,162.5 L662.7,156.5 L662.3,155.9 L660.0,146.5 L649.5,146.5 L649.5,154.0 L649.2,154.7 L648.6,155.1 L623.0,157.5 L505.5,149.0 L420.0,136.0 L342.0,122.5 L327.0,119.0 L249.5,98.0 L247.0,120.9 L241.7,127.2 L241.0,127.6 L240.1,127.4 L235.0,123.8 L233.0,112.0 L225.0,108.5 L211.5,105.0 L210.5,125.0 L211.5,145.1 L204.5,166.0 L193.0,198.5 L177.0,228.5 L173.5,241.0 L165.5,256.0 L163.0,262.0 L160.0,280.0 L156.0,292.0Z" fill="none" stroke="#0a0a00" stroke-width="3" stroke-linejoin="round"/>
<g id="squig" fill="none" stroke="#0a0a00" stroke-width="2.3" stroke-linecap="round" stroke-linejoin="round">
<path d="M996,404 Q1001,409 999.5,411.5 Q998,414 1003.0,418.0"/>
<path d="M999,424 Q1005,427 1001.0,431.0"/>
<path d="M1000,438 Q1008,440 1005.5,442.5 Q1003,445 1009.0,447.0"/>
<path d="M992,452 Q1000,452 996.0,458.0"/>
<path d="M910,622 Q916,626 914.0,628.5 Q912,631 919.0,634.0"/>
<path d="M917,640 Q924,641 922.5,644.0 Q921,647 928.0,650.0"/>
<path d="M928,656 Q934,655 933.0,658.5 Q932,662 938.0,665.0"/>
<path d="M944,611 Q948,617 945.0,621.0"/>
<path d="M950,636 Q957,639 955.5,641.5 Q954,644 960.0,642.0"/>
<path d="M703,596 Q706,590 709.0,597.0"/>
<path d="M719,600 Q722,593 725.0,601.0"/>
<path d="M737,602 Q741,596 744.0,604.0"/>
<path d="M755,607 Q760,600 764.0,606.0"/>
<path d="M764,590 Q770,594 768.0,596.0 Q766,598 772.0,600.0"/>
<path d="M660,612 Q664,607 668.0,611.0"/>
<path d="M646,621 Q650,616 653.0,620.0"/>
<path d="M632,631 Q636,626 640.0,629.0"/>
<path d="M618,655 Q613,659 618.0,664.0"/>
<path d="M620,684 Q616,680 621.0,676.0"/>
<path d="M776,243 Q783,236 786.5,232.0 Q790,228 798.0,224.0"/>
<path d="M786,247 Q792,238 800.0,232.0"/>
<path d="M804,236 Q810,228 817.0,224.0"/>
<path d="M806,250 L812,242"/>
<path d="M845,236 Q850,244 846.0,250.0"/>
<path d="M1062,150 Q1066,158 1065.0,162.0 Q1064,166 1067.0,169.0 Q1070,172 1076.0,176.0"/>
<path d="M1068,152 L1071,160"/>
<path d="M157,301 Q161,302 161.0,307.0 Q161,312 158.0,313.0"/>
<path d="M166,352 Q170,349 171.0,353.5 Q172,358 176.0,356.0"/>
<path d="M164,360 L167,368"/>
<path d="M229,113 L230,121"/>
<path d="M236,126 L243,129"/>
<path d="M806,566 Q799,570 801.0,577.0"/>
<path d="M790,577 Q784,583 779.0,580.0"/>
<path d="M929,520 Q924,527 930.0,531.0"/>
<path d="M958,490 Q953,494 958.0,498.0"/>
<path d="M968,476 L963,480"/>
</g>
<polyline points="945,604 950,614 955,624 958.5,632" fill="none" stroke="#e8442a" stroke-width="3.2" stroke-linecap="round"/>
<g fill="#f4f6ee" stroke="none"><polygon points="1152,84 1154.5,85.5 1149.5,95 1147.5,93.5"/><circle cx="1194" cy="135.7" r="1.8"/><circle cx="1148" cy="73" r="1.8"/><ellipse cx="995.5" cy="559.5" rx="1.6" ry="3.6" fill="#d8ecb0"/><circle cx="208" cy="477" r="1.8"/><circle cx="163" cy="511.5" r="1.6"/><circle cx="174.5" cy="517" r="1.6"/><circle cx="213.5" cy="531.5" r="2.2"/><circle cx="290.5" cy="732" r="1.8"/><circle cx="307.5" cy="744" r="2"/><circle cx="335.5" cy="782" r="2.2" fill="#e9e3b0"/><ellipse cx="341.5" cy="794.5" rx="3.6" ry="2.8" fill="#e9e3b0"/><circle cx="353" cy="768" r="1.8"/><circle cx="355" cy="753" r="1.8"/><circle cx="289.5" cy="771.5" r="1.6"/><circle cx="644" cy="767" r="1.6"/><circle cx="646" cy="773" r="1.4"/></g>
<g id="dots" fill="#1a1a10">
<circle cx="930" cy="149.5" r="2"/>
<circle cx="954.5" cy="153" r="2"/>
<circle cx="1011" cy="152" r="2.5"/>
<circle cx="1035" cy="126" r="1.5"/>
<circle cx="1123" cy="24.5" r="1.5"/>
<circle cx="581" cy="743.5" r="1.6"/>
<circle cx="1043.5" cy="309" r="2.5"/>
</g>
<g font-family="Liberation Sans, sans-serif" font-size="17.5" font-weight="700">
<text x="555.8" y="768.2" textLength="47.4" lengthAdjust="spacingAndGlyphs" fill="none" stroke="#fffdf5" stroke-width="3" stroke-linejoin="round" opacity=".75">GABIK</text>
<path d="M549.2,768.2 L551,760 L553.5,755.5 L555.2,760 L557,768.2 Z" fill="#0d0d0d" stroke="#fffdf5" stroke-width="1.2" stroke-opacity=".6" paint-order="stroke"/>
<text x="555.8" y="768.2" textLength="47.4" lengthAdjust="spacingAndGlyphs" fill="#0b0b0b">GABIK</text>
</g>
<path d="M603,762.5 Q609,762 611,768" fill="none" stroke="#1a1a10" stroke-width="1.3" stroke-linecap="round"/>
</svg></body></html>
